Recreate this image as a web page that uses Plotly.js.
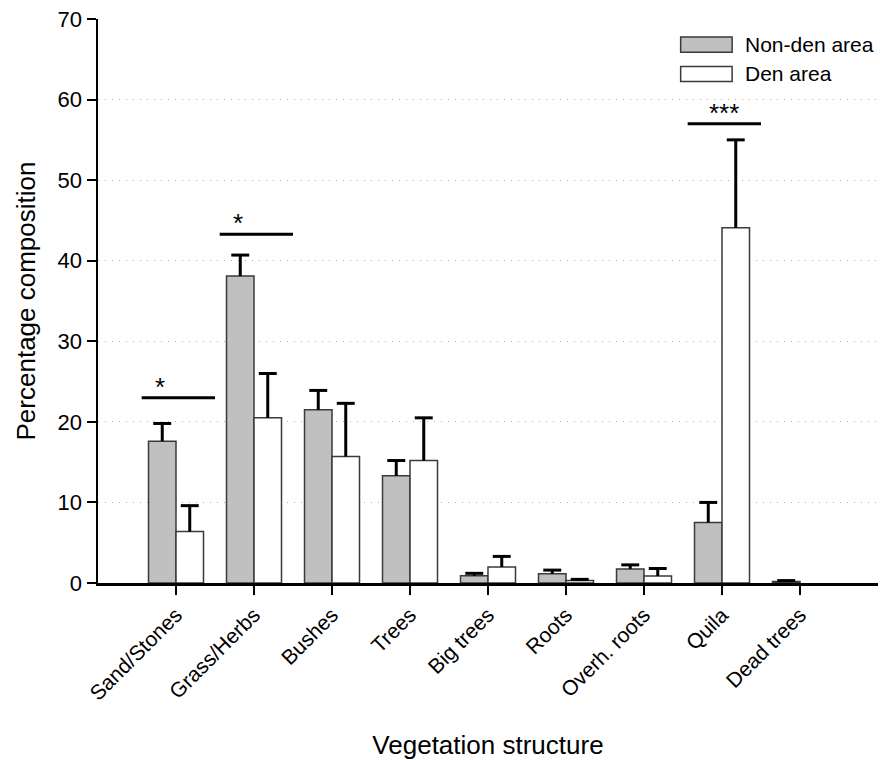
<!DOCTYPE html>
<html>
<head>
<meta charset="utf-8">
<script src="https://cdn.plot.ly/plotly-3.0.1.min.js"></script>
<style>html,body{margin:0;padding:0;background:#fff;}#chart{width:880px;height:760px;}</style>
</head>
<body>
<div id="chart"></div>
<script>
// ---- data ----
const categories = ["Sand/Stones", "Grass/Herbs", "Bushes", "Trees", "Big trees", "Roots", "Overh. roots", "Quila", "Dead trees"];
const nonDenValues = [17.6, 38.1, 21.5, 13.3, 0.9, 1.15, 1.75, 7.5, 0.2];
const nonDenErrors = [2.2, 2.6, 2.4, 1.9, 0.3, 0.45, 0.5, 2.5, 0.1];
const denValues = [6.4, 20.5, 15.7, 15.2, 2.0, 0.3, 0.87, 44.1, 0];
const denErrors = [3.2, 5.5, 6.6, 5.3, 1.3, 0.15, 0.93, 10.9, 0];
const seriesNames = ["Non-den area", "Den area"];
const sigCategories = ["Sand/Stones", "Grass/Herbs", "Quila"];
const sigLabels = ["*", "*", "***"];
const yTickVals = [0, 10, 20, 30, 40, 50, 60, 70];

// ---- build ----
const idx = categories.map((c, i) => i);
const FONT = '"Liberation Sans", Arial, Helvetica, sans-serif';
const BW = 0.3525;       // width of one bar (category units)
const CAP = 0.115;       // half width of error cap (category units)
const fills = ['#c0c0c0', '#ffffff'];
const seriesVals = [nonDenValues, denValues];
const seriesErrs = [nonDenErrors, denErrors];

const traces = [];
seriesNames.forEach((name, s) => {
  traces.push({
    type: 'bar', name: name, x: idx, y: seriesVals[s],
    width: BW, offset: s === 0 ? -BW : 0,
    marker: {color: fills[s],
             line: {color: '#3a3a3a', width: seriesVals[s].map(v => v > 0 ? 1.5 : 0)}},
    showlegend: false, hoverinfo: 'skip'
  });
});
// upward-only error bars (stem + top cap)
seriesNames.forEach((name, s) => {
  const ex = [], ey = [];
  idx.forEach(i => {
    const v = seriesVals[s][i], e = seriesErrs[s][i];
    if (!(e > 0)) return;
    const xc = i + (s === 0 ? -BW / 2 : BW / 2);
    ex.push(xc, xc, null, xc - CAP, xc + CAP, null);
    ey.push(v, v + e, null, v + e, v + e, null);
  });
  traces.push({type: 'scatter', mode: 'lines', x: ex, y: ey, name: name + ' SEM',
               line: {color: '#000', width: 3}, showlegend: false, hoverinfo: 'skip'});
});

// significance bars placed just above the tallest error bar of each category
const sigGap = [3.2, 2.6, 2.0];
const shapes = [];
const annotations = [];
sigCategories.forEach((c, k) => {
  const i = categories.indexOf(c);
  const top = Math.max(nonDenValues[i] + nonDenErrors[i], denValues[i] + denErrors[i]);
  const yl = top + sigGap[k];
  shapes.push({type: 'line', xref: 'x', yref: 'y', x0: i - 0.44, x1: i + 0.5, y0: yl, y1: yl,
               line: {color: '#000', width: 3}});
  const single = sigLabels[k].length === 1;
  annotations.push({xref: 'x', yref: 'y', x: single ? i - 0.21 : i + 0.03, y: yl,
                    text: sigLabels[k], showarrow: false, yanchor: 'bottom', yshift: -6,
                    font: {family: FONT, size: 26, color: '#000'}});
});

// custom legend (wide swatches like the original)
const legTop = [0.968, 0.916];
seriesNames.forEach((n, k) => {
  shapes.push({type: 'rect', xref: 'paper', yref: 'paper', x0: 0.747, x1: 0.813,
               y0: legTop[k] - 0.027, y1: legTop[k],
               fillcolor: fills[k], line: {color: '#3a3a3a', width: 1.5}});
  annotations.push({xref: 'paper', yref: 'paper', x: 0.827, y: legTop[k] - 0.0135,
                    xanchor: 'left', yanchor: 'middle', text: n, showarrow: false,
                    font: {family: FONT, size: 21, color: '#000'}});
});

const layout = {
  width: 880, height: 760,
  margin: {l: 98, r: 2, t: 19, b: 177},
  paper_bgcolor: '#fff', plot_bgcolor: '#fff',
  font: {family: FONT, color: '#000'},
  barmode: 'overlay',
  showlegend: false,
  xaxis: {
    range: [-1, 9], tickvals: idx, ticktext: categories, tickangle: -45,
    ticks: 'outside', ticklen: 9, tickwidth: 2, tickcolor: '#000',
    showline: true, linecolor: '#000', linewidth: 2.5, showgrid: false, zeroline: false,
    tickfont: {family: FONT, size: 21, color: '#000'},
    title: {text: 'Vegetation structure', font: {family: FONT, size: 26, color: '#000'}, standoff: 40}
  },
  yaxis: {
    range: [0, 70], tickvals: yTickVals,
    ticks: 'outside', ticklen: 9, tickwidth: 2, tickcolor: '#000',
    showline: true, linecolor: '#000', linewidth: 2.5, zeroline: false,
    showgrid: true, gridcolor: '#b0b0b0', griddash: '1px,6px', gridwidth: 1,
    tickfont: {family: FONT, size: 22, color: '#000'},
    title: {text: 'Percentage composition', font: {family: FONT, size: 26, color: '#000'}}
  },
  shapes: shapes,
  annotations: annotations
};

Plotly.newPlot('chart', traces, layout, {displayModeBar: false, staticPlot: true});
</script>
</body>
</html>
